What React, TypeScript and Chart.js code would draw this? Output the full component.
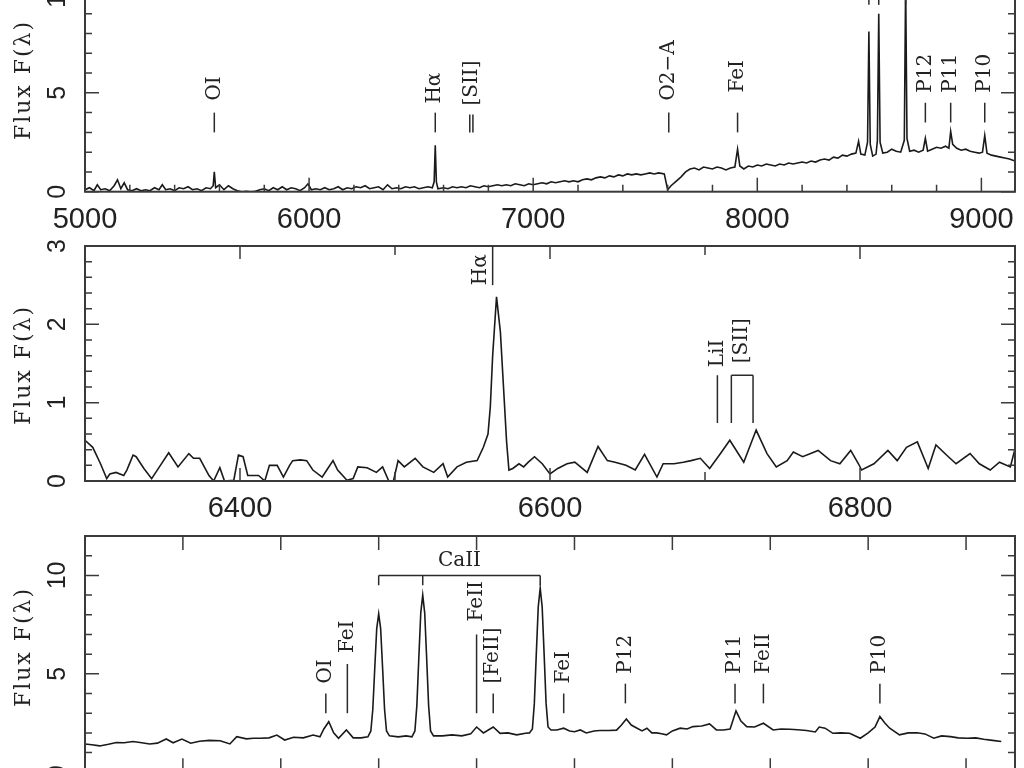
import React, { useEffect, useRef } from 'react';
import { Chart, registerables } from 'chart.js';

Chart.register(...registerables);

// ---------------- DATA ----------------
// Panel 1: full spectrum 5000-9150 Å  [wavelength, flux]
const P1_SPECTRUM: [number, number][] = [
  [5000, 0.1], [5020, 0.2], [5040, 0.05], [5055, 0.35], [5070, 0.1], [5090, 0.15], [5110, 0.05], [5130, 0.3],
  [5145, 0.6], [5160, 0.15], [5175, 0.45], [5190, 0.1], [5210, 0.05], [5230, 0.15], [5250, 0.05], [5270, 0.1],
  [5290, 0.05], [5310, 0.2], [5330, 0.1], [5345, 0.35], [5360, 0.1], [5380, 0.15], [5400, 0.05], [5420, 0.2],
  [5440, 0.15], [5460, 0.25], [5480, 0.1], [5500, 0.15], [5520, 0.05], [5540, 0.2], [5560, 0.15], [5572, 0.3],
  [5577, 1.0], [5583, 0.2], [5600, 0.35], [5620, 0.1], [5640, 0.3], [5660, 0.15], [5680, 0.05], [5700, 0.0],
  [5720, 0.02], [5740, 0.0], [5760, 0.02], [5780, 0.1], [5800, 0.15], [5820, 0.05], [5840, 0.2], [5860, 0.1],
  [5880, 0.25], [5900, 0.1], [5920, 0.2], [5940, 0.15], [5960, 0.05], [5980, 0.2], [5995, 0.4], [6010, 0.1],
  [6030, 0.15], [6050, 0.1], [6070, 0.2], [6090, 0.1], [6110, 0.15], [6130, 0.25], [6150, 0.1], [6170, 0.2],
  [6190, 0.15], [6210, 0.25], [6230, 0.2], [6250, 0.3], [6270, 0.15], [6290, 0.2], [6310, 0.25], [6330, 0.1],
  [6350, 0.35], [6370, 0.15], [6390, 0.2], [6410, 0.15], [6430, 0.25], [6450, 0.2], [6470, 0.25], [6490, 0.15],
  [6510, 0.2], [6530, 0.25], [6550, 0.2], [6558, 0.5], [6563, 2.35], [6568, 0.5], [6575, 0.15], [6600, 0.2],
  [6620, 0.15], [6640, 0.25], [6660, 0.2], [6680, 0.25], [6700, 0.2], [6720, 0.3], [6740, 0.25], [6760, 0.2],
  [6780, 0.3], [6800, 0.25], [6820, 0.3], [6840, 0.35], [6860, 0.3], [6880, 0.35], [6900, 0.3], [6920, 0.4],
  [6940, 0.35], [6960, 0.3], [6980, 0.4], [7000, 0.35], [7020, 0.4], [7040, 0.45], [7060, 0.4], [7080, 0.5],
  [7100, 0.45], [7120, 0.5], [7140, 0.55], [7160, 0.5], [7180, 0.55], [7200, 0.5], [7220, 0.6], [7240, 0.65],
  [7260, 0.6], [7280, 0.7], [7300, 0.75], [7320, 0.7], [7340, 0.8], [7360, 0.75], [7380, 0.85], [7400, 0.8],
  [7420, 0.9], [7440, 0.85], [7460, 0.9], [7480, 0.85], [7500, 0.9], [7520, 0.95], [7540, 0.9], [7560, 0.95],
  [7585, 0.9], [7600, 0.1], [7615, 0.3], [7640, 0.55], [7660, 0.75], [7680, 1.0], [7700, 1.15], [7720, 1.2],
  [7740, 1.1], [7760, 1.25], [7780, 1.2], [7800, 1.15], [7820, 1.25], [7840, 1.2], [7860, 1.1], [7880, 1.2],
  [7900, 1.25], [7912, 2.15], [7922, 1.3], [7940, 1.15], [7960, 1.3], [7980, 1.25], [8000, 1.35], [8020, 1.3],
  [8040, 1.4], [8060, 1.35], [8080, 1.3], [8100, 1.4], [8120, 1.35], [8140, 1.45], [8160, 1.4], [8180, 1.45],
  [8200, 1.5], [8220, 1.45], [8240, 1.55], [8260, 1.5], [8280, 1.6], [8300, 1.65], [8320, 1.6], [8340, 1.75],
  [8360, 1.7], [8380, 1.85], [8400, 1.8], [8420, 1.9], [8440, 1.95], [8452, 2.55], [8462, 1.9], [8480, 1.85],
  [8492, 2.5], [8498, 8.1], [8504, 2.4], [8515, 1.8], [8530, 1.9], [8536, 2.6], [8542, 9.0], [8548, 2.5],
  [8560, 1.95], [8580, 2.0], [8600, 2.15], [8620, 2.05], [8640, 2.0], [8656, 2.6], [8662, 10.6], [8668, 2.7],
  [8680, 2.05], [8700, 2.1], [8720, 2.0], [8740, 2.1], [8750, 2.7], [8760, 2.05], [8780, 2.15], [8800, 2.25],
  [8820, 2.2], [8840, 2.3], [8855, 2.2], [8863, 3.05], [8872, 2.4], [8890, 2.2], [8910, 2.1], [8930, 2.15],
  [8950, 2.05], [8970, 2.0], [8990, 1.95], [9005, 2.0], [9015, 2.85], [9025, 1.95], [9045, 1.85], [9065, 1.8],
  [9085, 1.75], [9105, 1.7], [9125, 1.65], [9150, 1.55],
];

// Panel 2: H-alpha region 6300-6900 Å
const P2_SPECTRUM: [number, number][] = [
  [6300, 0.52], [6305, 0.43], [6310, 0.22], [6314, 0.03], [6316, 0.09], [6320, 0.11], [6325, 0.07], [6327, 0.14],
  [6331, 0.33], [6333, 0.31], [6338, 0.16], [6343, 0.03], [6348, 0.18], [6354, 0.36], [6360, 0.18], [6367, 0.35],
  [6370, 0.29], [6374, 0.29], [6380, 0.07], [6383, 0.0], [6387, 0.17], [6390, 0.0], [6396, 0.01], [6399, 0.33],
  [6402, 0.31], [6405, 0.07], [6412, 0.07], [6416, 0.0], [6419, 0.2], [6424, 0.2], [6428, 0.05], [6432, 0.2],
  [6434, 0.26], [6439, 0.27], [6443, 0.26], [6447, 0.14], [6453, 0.05], [6456, 0.14], [6460, 0.26], [6463, 0.14],
  [6469, 0.01], [6473, 0.03], [6476, 0.18], [6482, 0.17], [6488, 0.11], [6492, 0.18], [6496, 0.0], [6499, 0.0],
  [6502, 0.26], [6506, 0.18], [6513, 0.29], [6518, 0.18], [6525, 0.11], [6531, 0.22], [6534, 0.05], [6540, 0.18],
  [6546, 0.24], [6553, 0.26], [6557, 0.43], [6560, 0.6], [6561.5, 0.95], [6563, 1.6], [6565.5, 2.35], [6568, 1.9],
  [6570, 1.2], [6572, 0.5], [6573.5, 0.14], [6576, 0.16], [6580, 0.22], [6583, 0.18], [6586, 0.24], [6590, 0.31],
  [6595, 0.22], [6600, 0.09], [6605, 0.16], [6611, 0.22], [6616, 0.24], [6624, 0.11], [6631, 0.44], [6637, 0.26],
  [6642, 0.24], [6649, 0.2], [6655, 0.14], [6661, 0.34], [6669, 0.05], [6673, 0.22], [6680, 0.22], [6686, 0.24],
  [6691, 0.26], [6697, 0.29], [6703, 0.16], [6710, 0.35], [6716, 0.52], [6725, 0.24], [6733, 0.65], [6740, 0.35],
  [6746, 0.18], [6753, 0.26], [6757, 0.37], [6763, 0.31], [6773, 0.39], [6781, 0.26], [6787, 0.22], [6794, 0.39],
  [6799, 0.22], [6801, 0.14], [6809, 0.22], [6818, 0.39], [6824, 0.26], [6830, 0.43], [6837, 0.5], [6844, 0.16],
  [6849, 0.46], [6857, 0.31], [6862, 0.22], [6871, 0.35], [6877, 0.22], [6884, 0.14], [6890, 0.24], [6897, 0.18],
  [6900, 0.41],
];

// Panel 3: Ca II triplet region 8200-9150 Å
const P3_SPECTRUM: [number, number][] = [
  [8200, 1.44], [8207, 1.4], [8215, 1.34], [8224, 1.42], [8232, 1.51], [8240, 1.5], [8249, 1.56], [8258, 1.5],
  [8266, 1.44], [8274, 1.48], [8283, 1.69], [8290, 1.5], [8299, 1.69], [8308, 1.48], [8317, 1.58], [8327, 1.62],
  [8338, 1.6], [8348, 1.44], [8355, 1.81], [8365, 1.7], [8372, 1.73], [8379, 1.73], [8388, 1.75], [8396, 1.89],
  [8404, 1.64], [8413, 1.78], [8423, 1.75], [8433, 1.89], [8440, 1.8], [8444, 2.2], [8449, 2.57], [8454, 2.0],
  [8459, 1.73], [8467, 2.15], [8474, 1.75], [8482, 1.75], [8489, 1.8], [8492, 2.1], [8494, 3.2], [8496, 5.3],
  [8498, 7.3], [8500, 8.05], [8502, 7.3], [8504, 5.3], [8506, 3.2], [8508, 2.1], [8511, 1.85], [8520, 1.8],
  [8528, 1.85], [8534, 1.8], [8537, 2.1], [8539, 3.4], [8541, 5.8], [8543, 8.1], [8545, 9.0], [8547, 8.1],
  [8549, 5.8], [8551, 3.4], [8553, 2.1], [8556, 1.85], [8565, 1.85], [8575, 1.9], [8585, 1.85], [8594, 1.95],
  [8600, 2.3], [8607, 2.0], [8617, 2.3], [8624, 1.98], [8632, 2.0], [8641, 1.9], [8650, 1.98], [8654, 2.0],
  [8657, 2.2], [8659, 3.5], [8661, 6.0], [8663, 8.4], [8665, 9.35], [8667, 8.4], [8669, 6.0], [8671, 3.5],
  [8673, 2.3], [8676, 2.15], [8682, 2.15], [8689, 2.24], [8695, 2.1], [8700, 2.06], [8706, 2.15], [8712, 2.0],
  [8720, 2.1], [8726, 2.12], [8735, 2.12], [8743, 2.14], [8748, 2.4], [8753, 2.71], [8758, 2.4], [8764, 2.24],
  [8769, 2.1], [8774, 2.24], [8779, 2.0], [8784, 2.0], [8789, 1.96], [8794, 1.9], [8800, 2.1], [8808, 2.24],
  [8815, 2.2], [8821, 2.32], [8830, 2.35], [8838, 2.46], [8845, 2.15], [8852, 2.15], [8859, 2.2], [8865, 3.12],
  [8870, 2.6], [8876, 2.32], [8884, 2.3], [8893, 2.49], [8903, 2.15], [8911, 2.2], [8920, 2.19], [8928, 2.16],
  [8937, 2.12], [8946, 2.05], [8950, 2.3], [8956, 2.24], [8964, 1.98], [8972, 2.0], [8981, 1.98], [8992, 1.73],
  [9000, 2.0], [9007, 2.3], [9012, 2.83], [9017, 2.5], [9022, 2.24], [9032, 1.9], [9041, 2.0], [9050, 2.01],
  [9058, 1.95], [9067, 1.73], [9075, 1.85], [9084, 1.81], [9092, 1.75], [9101, 1.73], [9110, 1.75], [9118, 1.68],
  [9127, 1.62], [9136, 1.56],
];

// Axis ticks
const P1_X_MAJOR = [5000, 6000, 7000, 8000, 9000];
const P1_X_MINOR = [5200, 5400, 5600, 5800, 6200, 6400, 6600, 6800, 7200, 7400, 7600, 7800, 8200, 8400, 8600, 8800, 9000];
const P1_X_LABELS = ['5000', '6000', '7000', '8000', '9000'];
const P1_Y_MAJOR = [0, 5, 10];
const P1_Y_MINOR = [1, 2, 3, 4, 6, 7, 8, 9, 11];
const P1_Y_LABELS = ['0', '5', '10'];

const P2_X_MAJOR = [6400, 6600, 6800];
const P2_X_MINOR = [6500, 6700];
const P2_X_LABELS = ['6400', '6600', '6800'];
const P2_Y_MAJOR = [0, 1, 2, 3];
const P2_Y_MINOR = [0.2, 0.4, 0.6, 0.8, 1.2, 1.4, 1.6, 1.8, 2.2, 2.4, 2.6, 2.8];
const P2_Y_LABELS = ['0', '1', '2', '3'];

const P3_X_MAJOR = [8400, 8600, 8800, 9000];
const P3_X_MINOR = [8300, 8500, 8700, 8900, 9100];
const P3_X_LABELS = ['8400', '8600', '8800', '9000'];
const P3_Y_MAJOR = [0, 5, 10];
const P3_Y_MINOR = [1, 2, 3, 4, 6, 7, 8, 9, 11];
const P3_Y_LABELS = ['0', '5', '10'];

// Line identifications
type Ann = { text: string; waves: number[]; y0: number; y1: number; gap?: number; kind?: 'lines' | 'bracket' | 'left' | 'hbracket' };

const P1_LINES: Ann[] = [
  { text: 'OI', waves: [5577], y0: 3.0, y1: 4.0, gap: 12 },
  { text: 'Hα', waves: [6563], y0: 3.0, y1: 4.0, gap: 9 },
  { text: '[SII]', waves: [6717, 6731], y0: 3.0, y1: 3.9, gap: 9 },
  { text: 'O2−A', waves: [7605], y0: 3.0, y1: 4.0, gap: 12 },
  { text: 'FeI', waves: [7912], y0: 3.0, y1: 4.0, gap: 20 },
  { text: 'P12', waves: [8750], y0: 3.5, y1: 4.5, gap: 10 },
  { text: 'P11', waves: [8863], y0: 3.5, y1: 4.5, gap: 10 },
  { text: 'P10', waves: [9015], y0: 3.5, y1: 4.5, gap: 10 },
  { text: '', waves: [8498], y0: 9.45, y1: 11.3 },
  { text: '', waves: [8542], y0: 9.45, y1: 11.3 },
  { text: '', waves: [8662], y0: 9.45, y1: 11.3 },
];

const P2_LINES: Ann[] = [
  { text: 'Hα', waves: [6563], y0: 2.5, y1: 3.0, kind: 'left' },
  { text: 'LiI', waves: [6708], y0: 0.74, y1: 1.35, gap: 8 },
  { text: '[SII]', waves: [6717, 6731], y0: 0.74, y1: 1.35, gap: 12, kind: 'bracket' },
];

const P3_LINES: Ann[] = [
  { text: 'OI', waves: [8446], y0: 3.0, y1: 4.0, gap: 10 },
  { text: 'FeI', waves: [8468], y0: 3.0, y1: 5.5, gap: 11 },
  { text: 'CaII', waves: [8500, 8545, 8665], y0: 9.5, y1: 10.0, gap: 9, kind: 'hbracket' },
  { text: 'FeII', waves: [8600], y0: 3.0, y1: 7.0, gap: 13 },
  { text: '[FeII]', waves: [8617], y0: 3.0, y1: 4.0, gap: 10 },
  { text: 'FeI', waves: [8689], y0: 3.0, y1: 4.0, gap: 10 },
  { text: 'P12', waves: [8752], y0: 3.5, y1: 4.5, gap: 10 },
  { text: 'P11', waves: [8864], y0: 3.5, y1: 4.5, gap: 10 },
  { text: 'FeII', waves: [8893], y0: 3.5, y1: 4.5, gap: 10 },
  { text: 'P10', waves: [9012], y0: 3.5, y1: 4.5, gap: 10 },
];

const Y_TITLE = 'Flux F(λ)';

// ---------------- STYLE / LAYOUT ----------------
const LINE_COLOR = '#1a1a1a';
const AXIS_COLOR = '#3a3a3a';
const TICK_FONT = '29px "Liberation Sans", Arial, sans-serif';
const YTICK_FONT = '25px "Liberation Sans", Arial, sans-serif';
const LABEL_FONT = '20px "DejaVu Serif", serif';
const TITLE_FONT = '22px "DejaVu Serif", serif';

type Panel = {
  spectrum: [number, number][];
  xMin: number; xMax: number; yMin: number; yMax: number;
  xMajor: number[]; xMinor: number[]; xLabels: string[];
  yMajor: number[]; yMinor: number[]; yLabels: string[];
  lines: Ann[];
  canvasTop: number; canvasHeight: number;
  padTop: number; padBottom: number;
  titleY: number;
  xMajorLen: number; xMinorLen: number;
};

const PANELS: Panel[] = [
  {
    spectrum: P1_SPECTRUM, xMin: 5000, xMax: 9150, yMin: 0, yMax: 11.3,
    xMajor: P1_X_MAJOR, xMinor: P1_X_MINOR, xLabels: P1_X_LABELS,
    yMajor: P1_Y_MAJOR, yMinor: P1_Y_MINOR, yLabels: P1_Y_LABELS,
    lines: P1_LINES, canvasTop: -100, canvasHeight: 340, padTop: 68.3, padBottom: 48.3,
    titleY: 80, xMajorLen: 14, xMinorLen: 7,
  },
  {
    spectrum: P2_SPECTRUM, xMin: 6300, xMax: 6900, yMin: 0, yMax: 3,
    xMajor: P2_X_MAJOR, xMinor: P2_X_MINOR, xLabels: P2_X_LABELS,
    yMajor: P2_Y_MAJOR, yMinor: P2_Y_MINOR, yLabels: P2_Y_LABELS,
    lines: P2_LINES, canvasTop: 200, canvasHeight: 330, padTop: 46, padBottom: 49,
    titleY: 365, xMajorLen: 13, xMinorLen: 9,
  },
  {
    spectrum: P3_SPECTRUM, xMin: 8200, xMax: 9150, yMin: 0, yMax: 12,
    xMajor: P3_X_MAJOR, xMinor: P3_X_MINOR, xLabels: P3_X_LABELS,
    yMajor: P3_Y_MAJOR, yMinor: P3_Y_MINOR, yLabels: P3_Y_LABELS,
    lines: P3_LINES, canvasTop: 500, canvasHeight: 330, padTop: 36, padBottom: 57.7,
    titleY: 647, xMajorLen: 14, xMinorLen: 14,
  },
];

function makeDecor(p: Panel) {
  return {
    id: 'decor',
    afterDatasetsDraw(chart: any) {
      const ctx: CanvasRenderingContext2D = chart.ctx;
      const xs = chart.scales.x;
      const ys = chart.scales.y;
      const { left, right, top, bottom } = chart.chartArea;
      ctx.save();
      // ticks (inward, all four sides)
      ctx.strokeStyle = AXIS_COLOR;
      ctx.lineWidth = 1.5;
      ctx.beginPath();
      const xt = (vals: number[], len: number) => {
        for (const v of vals) {
          const x = xs.getPixelForValue(v);
          ctx.moveTo(x, bottom); ctx.lineTo(x, bottom - len);
          ctx.moveTo(x, top); ctx.lineTo(x, top + len);
        }
      };
      const yt = (vals: number[], len: number) => {
        for (const v of vals) {
          const y = ys.getPixelForValue(v);
          ctx.moveTo(left, y); ctx.lineTo(left + len, y);
          ctx.moveTo(right, y); ctx.lineTo(right - len, y);
        }
      };
      xt(p.xMajor, p.xMajorLen);
      xt(p.xMinor, p.xMinorLen);
      yt(p.yMajor, 14);
      yt(p.yMinor, 7);
      ctx.stroke();
      // frame
      ctx.lineWidth = 2;
      ctx.strokeRect(left, top, right - left, bottom - top);

      // x tick labels
      ctx.fillStyle = '#222';
      ctx.font = TICK_FONT;
      ctx.textAlign = 'center';
      ctx.textBaseline = 'alphabetic';
      p.xMajor.forEach((v, i) => {
        ctx.fillText(p.xLabels[i], xs.getPixelForValue(v), bottom + 36);
      });
      // y tick labels (rotated)
      ctx.font = YTICK_FONT;
      p.yMajor.forEach((v, i) => {
        ctx.save();
        ctx.translate(left - 20, ys.getPixelForValue(v));
        ctx.rotate(-Math.PI / 2);
        ctx.textAlign = 'center';
        ctx.textBaseline = 'alphabetic';
        ctx.fillText(p.yLabels[i], 0, 0);
        ctx.restore();
      });
      // y title (titleY is given in page coordinates)
      ctx.save();
      ctx.font = TITLE_FONT;
      (ctx as any).letterSpacing = '2px';
      ctx.translate(30, p.titleY - p.canvasTop);
      ctx.rotate(-Math.PI / 2);
      ctx.textAlign = 'center';
      ctx.textBaseline = 'alphabetic';
      ctx.fillText(Y_TITLE, 0, 0);
      ctx.restore();

      // line identifications
      ctx.strokeStyle = '#2a2a2a';
      ctx.lineWidth = 1.5;
      ctx.font = LABEL_FONT;
      for (const a of p.lines) {
        const xsPix = a.waves.map((w) => xs.getPixelForValue(w));
        const y0 = ys.getPixelForValue(a.y0);
        const y1 = ys.getPixelForValue(a.y1);
        const gap = a.gap ?? 10;
        ctx.beginPath();
        if (a.kind === 'hbracket') {
          ctx.moveTo(xsPix[0], y1);
          ctx.lineTo(xsPix[xsPix.length - 1], y1);
          for (const x of xsPix) { ctx.moveTo(x, y1); ctx.lineTo(x, y0); }
          ctx.stroke();
          if (a.text) {
            const cx = (xsPix[0] + xsPix[xsPix.length - 1]) / 2;
            ctx.textAlign = 'center';
            ctx.textBaseline = 'alphabetic';
            ctx.fillText(a.text, cx, y1 - gap);
          }
          continue;
        }
        for (const x of xsPix) { ctx.moveTo(x, y0); ctx.lineTo(x, y1); }
        if (a.kind === 'bracket') {
          ctx.moveTo(xsPix[0], y1);
          ctx.lineTo(xsPix[xsPix.length - 1], y1);
        }
        ctx.stroke();
        if (!a.text) continue;
        const cx = xsPix.reduce((s, v) => s + v, 0) / xsPix.length;
        ctx.save();
        if (a.kind === 'left') {
          ctx.translate(cx - 12, y0);
        } else {
          ctx.translate(cx, y1 - gap);
        }
        ctx.rotate(-Math.PI / 2);
        ctx.textAlign = 'left';
        ctx.textBaseline = 'middle';
        ctx.fillText(a.text, 0, 0);
        ctx.restore();
      }
      ctx.restore();
    },
  };
}

function SpectrumPanel({ panel }: { panel: Panel }) {
  const ref = useRef<HTMLCanvasElement | null>(null);
  useEffect(() => {
    if (!ref.current) return;
    const chart = new Chart(ref.current, {
      type: 'line',
      data: {
        datasets: [
          {
            data: panel.spectrum.map(([x, y]) => ({ x, y })),
            borderColor: LINE_COLOR,
            borderWidth: 1.6,
            pointRadius: 0,
            tension: 0,
            fill: false,
          },
        ],
      },
      options: {
        responsive: false,
        animation: false,
        devicePixelRatio: 1,
        events: [],
        layout: { padding: { left: 85, right: 9, top: panel.padTop, bottom: panel.padBottom } },
        plugins: { legend: { display: false }, tooltip: { enabled: false }, title: { display: false } },
        scales: {
          x: { type: 'linear', min: panel.xMin, max: panel.xMax, display: false },
          y: { type: 'linear', min: panel.yMin, max: panel.yMax, display: false },
        },
      },
      plugins: [makeDecor(panel)],
    } as any);
    return () => chart.destroy();
  }, [panel]);
  return (
    <canvas
      ref={ref}
      width={1024}
      height={panel.canvasHeight}
      style={{ position: 'absolute', left: 0, top: panel.canvasTop, width: 1024, height: panel.canvasHeight }}
    />
  );
}

export default function App() {
  return (
    <div
      style={{
        position: 'fixed', left: 0, top: 0, width: 1024, height: 768,
        overflow: 'hidden', background: '#ffffff',
      }}
    >
      {PANELS.map((p, i) => (
        <SpectrumPanel key={i} panel={p} />
      ))}
    </div>
  );
}
